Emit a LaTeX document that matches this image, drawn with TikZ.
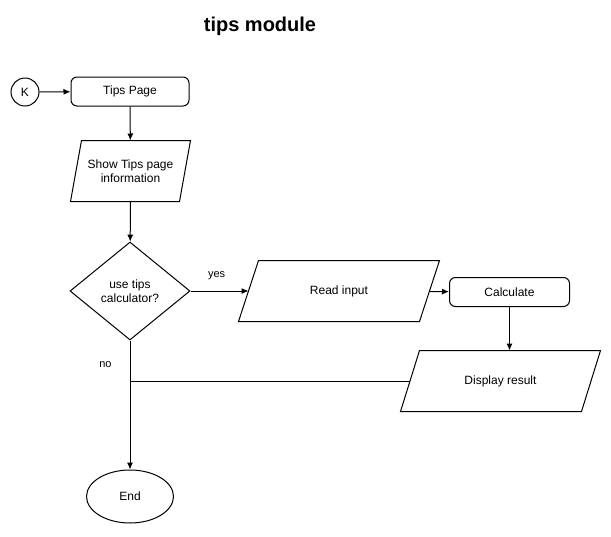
\documentclass[tikz,border=0pt]{standalone}
\usepackage{fontspec}
\setmainfont{Liberation Sans}
\usepackage{tikz}
\usetikzlibrary{shapes.geometric,arrows.meta}

% parallelogram round a node: name, half slant
\newcommand{\ioshape}[2]{\draw ([xshift=#2]#1.north west) -- ([xshift=#2]#1.north east)
  -- ([xshift=-#2]#1.south east) -- ([xshift=-#2]#1.south west) -- cycle;}

\begin{document}
\begin{tikzpicture}[x=1pt,y=-1pt,line width=1pt,>={Latex[length=7pt,width=6pt]},
  font=\fontsize{12}{14}\selectfont,
  proc/.style={draw,rounded corners=6pt,minimum width=118pt,minimum height=29pt,inner sep=0},
  io/.style={minimum height=60pt,inner sep=0,align=center},
  lbl/.style={font=\fontsize{11}{13}\selectfont,inner sep=0}]
\useasboundingbox (0,0) rectangle (611,536);
\node[font=\fontsize{20}{24}\selectfont\bfseries] (title) at (260,26) {tips module};
\node[draw,circle,minimum size=28pt,inner sep=0] (0) at (25,92) {K};
\node[proc] (1) at (130,91.5) {Tips Page};
\node[io,minimum width=108pt] (2) at (130.5,171) {Show Tips page\\information};
\ioshape{2}{5.5pt}
\node[draw,diamond,minimum width=120pt,minimum height=98pt,inner sep=0,align=center] (3) at (130,291) {use tips\\calculator?};
\node[io,minimum width=180pt] (4) at (339,291) {Read input};
\ioshape{4}{10pt}
\node[proc,minimum width=120pt] (5) at (509.5,292) {Calculate};
\node[io,minimum width=180pt] (6) at (500.5,381) {Display result};
\ioshape{6}{9.5pt}
\node[draw,ellipse,minimum width=87pt,minimum height=53pt,inner sep=0] (7) at (130,496.5) {End};
\draw [->](0)--(1);
\draw [->](1)--(2);
\draw [->](2)--(3);
\draw [->](3)--(4) node[lbl,pos=0.45,above=11pt]{yes};
\draw [->](4)--(5);
\draw [->](5.south)--(5.south |- 6.north);
\draw (6.west)--(6.west -| 3.south);
\draw [->](3)--(7) node[lbl,pos=0.19,left=18pt]{no};
\end{tikzpicture}
\end{document}
